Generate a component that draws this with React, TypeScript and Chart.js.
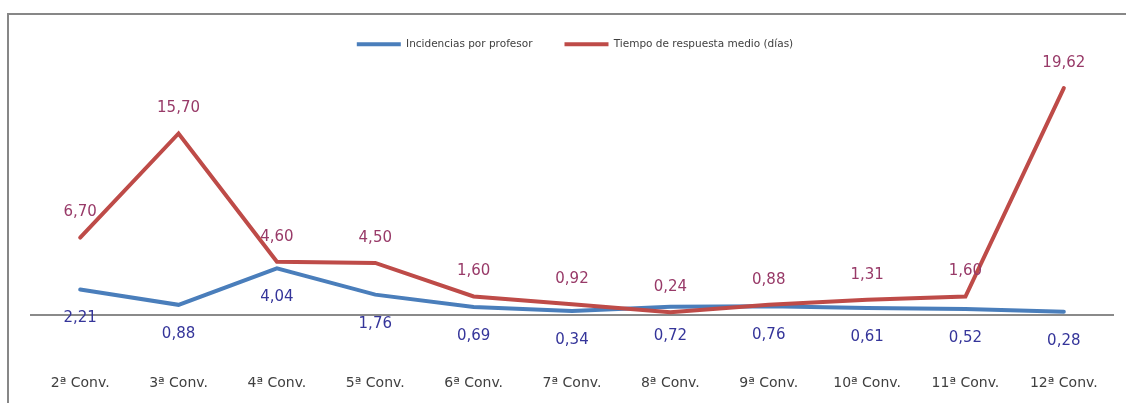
import React, { useEffect, useRef } from 'react';
import { Chart, registerables } from 'chart.js';

Chart.register(...registerables);

const categories = ['2ª Conv.', '3ª Conv.', '4ª Conv.', '5ª Conv.', '6ª Conv.', '7ª Conv.', '8ª Conv.', '9ª Conv.', '10ª Conv.', '11ª Conv.', '12ª Conv.'];
const incidenciasPorProfesor = [2.21, 0.88, 4.04, 1.76, 0.69, 0.34, 0.72, 0.76, 0.61, 0.52, 0.28];
const tiempoRespuestaMedio = [6.70, 15.70, 4.60, 4.50, 1.60, 0.92, 0.24, 0.88, 1.31, 1.60, 19.62];
const seriesNames = ['Incidencias por profesor', 'Tiempo de respuesta medio (días)'];

const FONT = '"DejaVu Sans", Verdana, sans-serif';
const labelColors = ['#35359a', '#983a68'];
const labelOffsets = [29, -25];

const fmt = (v: number) => v.toFixed(2).replace('.', ',');

const valueLabels = {
  id: 'valueLabels',
  afterDatasetsDraw(chart: any) {
    const ctx = chart.ctx;
    chart.data.datasets.forEach((ds: any, i: number) => {
      const meta = chart.getDatasetMeta(i);
      meta.data.forEach((pt: any, j: number) => {
        ctx.save();
        ctx.font = `15px ${FONT}`;
        ctx.fillStyle = labelColors[i];
        ctx.textAlign = 'center';
        ctx.textBaseline = 'middle';
        ctx.fillText(fmt(ds.data[j]), pt.x, pt.y + labelOffsets[i]);
        ctx.restore();
      });
    });
  },
};

export default function App() {
  const ref = useRef<HTMLCanvasElement | null>(null);

  useEffect(() => {
    if (!ref.current) return;
    const chart = new Chart(ref.current, {
      type: 'line',
      data: {
        labels: categories,
        datasets: [
          {
            label: seriesNames[0],
            data: incidenciasPorProfesor,
            borderColor: '#4a7ebb',
            backgroundColor: '#4a7ebb',
            borderWidth: 4,
            pointRadius: 0,
            borderCapStyle: 'round',
            tension: 0,
            order: 1,
          },
          {
            label: seriesNames[1],
            data: tiempoRespuestaMedio,
            borderColor: '#be4b48',
            backgroundColor: '#be4b48',
            borderWidth: 4,
            pointRadius: 0,
            borderCapStyle: 'round',
            tension: 0,
            order: 0,
          },
        ],
      },
      options: {
        responsive: false,
        animation: false,
        layout: { padding: { left: 31, right: 7, top: 7, bottom: 11 } },
        plugins: {
          tooltip: { enabled: false },
          legend: {
            position: 'top',
            align: 'center',
            labels: {
              boxWidth: 44,
              boxHeight: 4,
              padding: 32,
              color: '#404040',
              font: { family: FONT, size: 10.5 },
              sort: (a: any, b: any) => a.datasetIndex - b.datasetIndex,
              generateLabels: (c: any) =>
                (Chart.defaults.plugins.legend.labels.generateLabels as any)(c).map((l: any) => ({ ...l, lineWidth: 0 })),
            },
          },
        },
        scales: {
          x: {
            offset: true,
            grid: { display: false, drawTicks: false },
            border: { display: true, color: '#8a8a8a', width: 2 },
            ticks: {
              padding: 60,
              color: '#404040',
              font: { family: FONT, size: 14 },
              maxRotation: 0,
              autoSkip: false,
            },
            afterFit: (scale: any) => {
              scale.height = 77;
              scale.paddingLeft = 0;
              scale.paddingRight = 13;
            },
          },
          y: {
            display: false,
            min: 0,
            max: 22.1,
          },
        },
      },
      plugins: [valueLabels],
    });
    return () => chart.destroy();
  }, []);

  return (
    <div style={{ position: 'fixed', left: 0, top: 0, width: 1126, height: 403, overflow: 'hidden', background: '#fff' }}>
      <div
        style={{
          position: 'absolute',
          left: 7,
          top: 13,
          width: 1300,
          height: 600,
          borderTop: '2px solid #878787',
          borderLeft: '2px solid #878787',
        }}
      />
      <canvas ref={ref} width={1126} height={403} style={{ position: 'absolute', left: 0, top: 0 }} />
    </div>
  );
}
